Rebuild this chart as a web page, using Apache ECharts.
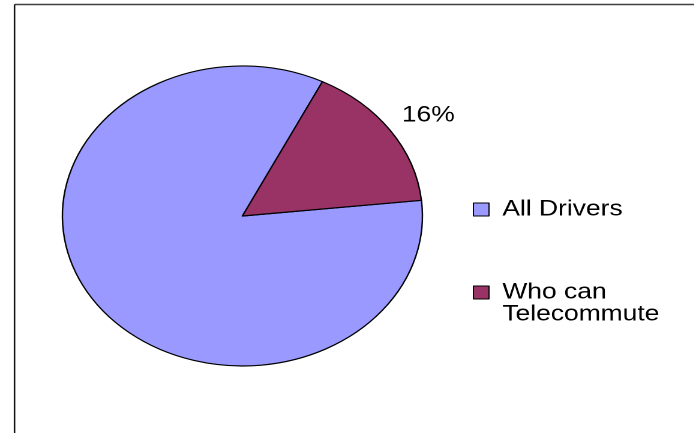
<!DOCTYPE html>
<html><head><meta charset="utf-8">
<script src="https://cdn.jsdelivr.net/npm/echarts@6/dist/echarts.min.js"></script>
<style>
html,body{margin:0;padding:0;background:#fff;overflow:hidden;width:694px;height:433px;}
#chart{width:578px;height:433px;transform:scaleX(1.2);transform-origin:0 0;}
</style></head><body><div id="chart"></div>
<script>
// Data
const categories = ['All Drivers', 'Who can Telecommute'];
const values = [84, 16];
const labeledCategories = ['Who can Telecommute'];

// Styles
const sliceColors = ['#9999FF', '#993366'];
const FONT = 'Arial, "Liberation Sans", sans-serif';

function wrapName(name, maxChars) {
  const words = name.split(' ');
  const lines = [];
  let cur = '';
  words.forEach(w => {
    if (cur && (cur + ' ' + w).length > maxChars) { lines.push(cur); cur = w; }
    else cur = cur ? cur + ' ' + w : w;
  });
  if (cur) lines.push(cur);
  const pad = new Array(lines.length - 1).fill('');
  return pad.concat(lines.map(l => ' ' + l)).join('\n');
}

const chart = echarts.init(document.getElementById('chart'), null, {renderer: 'canvas', devicePixelRatio: 2});
chart.setOption({
  animation: false,
  backgroundColor: '#fff',
  color: sliceColors,
  graphic: [
    {type: 'line', shape: {x1: 12.1, y1: 4.5, x2: 580, y2: 4.5}, style: {stroke: '#404040', lineWidth: 1.6}},
    {type: 'line', shape: {x1: 12.1, y1: 4.5, x2: 12.1, y2: 440}, style: {stroke: '#111', lineWidth: 1.3}}
  ],
  legend: {
    orient: 'vertical',
    left: 394,
    top: 198.5,
    padding: 0,
    itemWidth: 13,
    itemHeight: 13,
    itemGap: 39,
    icon: 'rect',
    data: categories,
    formatter: name => wrapName(name, 11),
    textStyle: {fontSize: 22, lineHeight: 22, color: '#000', fontFamily: FONT},
    itemStyle: {borderColor: '#000', borderWidth: 1}
  },
  series: [{
    type: 'pie',
    center: [202, 216],
    radius: 150,
    startAngle: 6,
    clockwise: true,
    percentPrecision: 0,
    avoidLabelOverlap: false,
    itemStyle: {borderColor: '#000', borderWidth: 1.2},
    emphasis: {disabled: true},
    label: {
      show: true,
      position: 'outside',
      formatter: '{d}%',
      fontSize: 22,
      color: '#000',
      fontFamily: FONT,
      distanceToLabelLine: 0
    },
    labelLine: {show: false, length: 26.5, length2: -12},
    data: categories.map((c, i) => ({
      name: c,
      value: values[i],
      label: {show: labeledCategories.includes(c)}
    }))
  }]
});
</script></body></html>
